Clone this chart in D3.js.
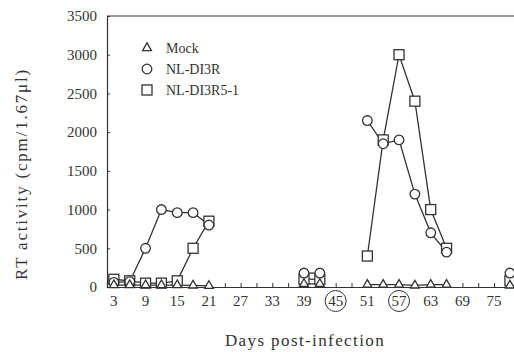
<!DOCTYPE html>
<html><head><meta charset="utf-8">
<script src="https://cdn.jsdelivr.net/npm/d3@7"></script>
<style>
html,body{margin:0;padding:0;background:#fff;}
svg text{font-family:"Liberation Serif","DejaVu Serif",serif;fill:#333;}
</style></head>
<body><svg id="c" width="514" height="352"></svg>
<script>
const days = [3,6,9,12,15,18,21,39,42,51,54,57,60,63,66,78];
const mock = [25,25,25,25,25,20,15,40,40,30,30,30,20,30,30,20];
const nlDI3R = [60,70,500,1000,960,960,800,180,180,2150,1850,1900,1200,700,450,180];
const nlDI3R51 = [100,80,50,50,80,500,850,100,100,400,1900,3000,2400,1000,500,80];
const seriesNames = ["Mock","NL-DI3R","NL-DI3R5-1"];
const yTicks = [0,500,1000,1500,2000,2500,3000,3500];
const xTickLabels = [3,9,15,21,27,33,39,45,51,57,63,69,75];
const circledLabels = [45,57];

const svg = d3.select("#c");
const x = d3.scaleLinear().domain([1.7,80]).range([107,520.5]);
const y = d3.scaleLinear().domain([0,3500]).range([287,16]);
const ink = "#333";

svg.append("line").attr("x1",107).attr("x2",514).attr("y1",16).attr("y2",16).attr("stroke",ink).attr("stroke-width",1.2);
const yAxis = d3.axisLeft(y).tickValues(yTicks).tickSize(-3).tickPadding(10).tickFormat(d3.format("d"));
const gy = svg.append("g").attr("transform","translate(107,0)").call(yAxis);
gy.select(".domain").attr("stroke",ink).attr("stroke-width",1.2);
gy.selectAll(".tick line").attr("stroke",ink);
gy.selectAll("text").style("font-size","15px").attr("fill",ink);

const minor = d3.range(3,79,3);
const xAxis = d3.axisBottom(x).tickValues(minor).tickSize(-4).tickPadding(0).tickFormat("");
const gx = svg.append("g").attr("transform","translate(0,287)").call(xAxis);
gx.select(".domain").attr("stroke",ink).attr("stroke-width",1.2);
gx.selectAll(".tick line").attr("stroke",ink);
const gl = svg.append("g");
gl.selectAll("text").data(xTickLabels).join("text")
  .attr("x",d=>x(d)).attr("y",306).attr("text-anchor","middle").style("font-size","15px").text(d=>d);
gl.selectAll("circle").data(circledLabels).join("circle")
  .attr("cx",d=>x(d)).attr("cy",301).attr("r",10.5).attr("fill","none").attr("stroke",ink).attr("stroke-width",1);

svg.append("text").attr("x",305).attr("y",346).attr("text-anchor","middle").style("font-size","17px").style("letter-spacing","1.4px").text("Days post-infection");
svg.append("text").attr("transform","translate(27,174) rotate(-90)").attr("text-anchor","middle").style("font-size","17px").style("letter-spacing","1.8px").text("RT activity (cpm/1.67\u03bcl)");

function segments(vals){
  const segs=[]; let cur=[];
  days.forEach((d,i)=>{
    if(i>0 && d-days[i-1]>3){segs.push(cur);cur=[];}
    cur.push([d,vals[i]]);
  });
  segs.push(cur); return segs;
}
const line = d3.line().x(d=>x(d[0])).y(d=>y(d[1]));
const allSeries = [mock,nlDI3R,nlDI3R51];
const plot = svg.append("g");
allSeries.forEach(vals=>{
  segments(vals).forEach(s=>{
    if(s.length>1) plot.append("path").attr("d",line(s)).attr("fill","none").attr("stroke",ink).attr("stroke-width",1.3);
  });
});
const tri = d3.symbol().type(d3.symbolTriangle).size(34);
function drawMarker(g,type,cx,cy){
  if(type===0) g.append("path").attr("d",tri()).attr("transform",`translate(${cx},${cy})`).attr("fill","#fff").attr("stroke",ink).attr("stroke-width",1.3);
  else if(type===1) g.append("circle").attr("cx",cx).attr("cy",cy).attr("r",4.8).attr("fill","#fff").attr("stroke",ink).attr("stroke-width",1.3);
  else g.append("rect").attr("x",cx-5).attr("y",cy-5).attr("width",10).attr("height",10).attr("fill","#fff").attr("stroke",ink).attr("stroke-width",1.3);
}
[2,1,0].forEach(k=>{
  days.forEach((d,i)=>drawMarker(plot,k,x(d),y(allSeries[k][i])));
});

const leg = svg.append("g");
const legY = [48,69,90];
seriesNames.forEach((n,k)=>{
  drawMarker(leg,k,147,legY[k]);
  leg.append("text").attr("x",166).attr("y",legY[k]+5).style("font-size","14px").text(n);
});
</script></body></html>
